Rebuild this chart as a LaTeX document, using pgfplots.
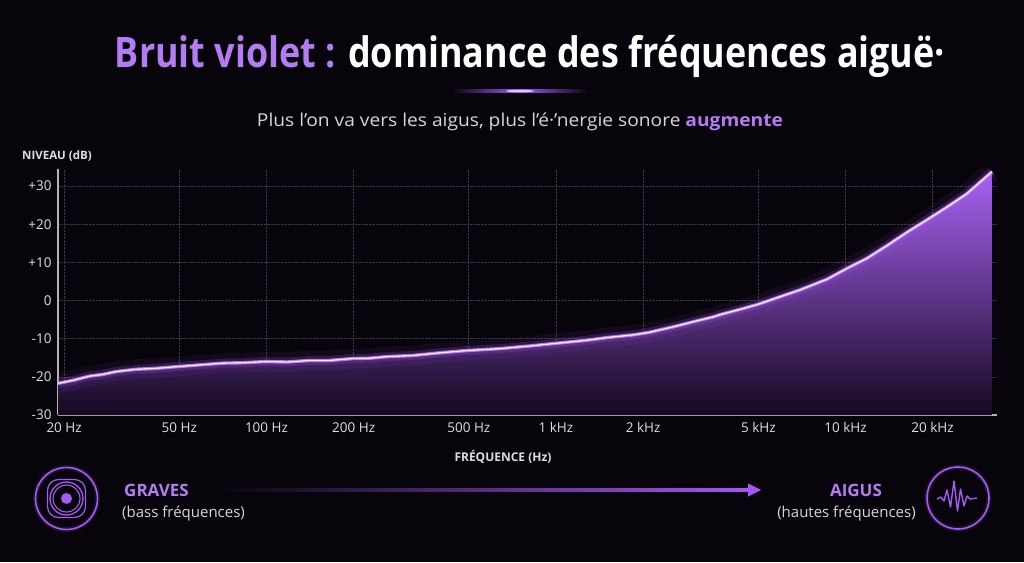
\documentclass[border=0pt]{standalone}
\usepackage{fontspec}
\setmainfont{Open Sans}
\usepackage{pgfplots}
\pgfplotsset{compat=1.18}
\usepackage{pgfplotstable}

\definecolor{bg}{HTML}{07050B}
\definecolor{vtitle}{HTML}{B47CF2}
\definecolor{subc}{HTML}{D6D6DA}
\definecolor{tickc}{HTML}{DEDEE2}
\definecolor{axisc}{HTML}{B4B4B8}
\definecolor{gridc}{HTML}{3A3646}
\definecolor{filltop}{HTML}{A862F2}
\definecolor{fillmid}{HTML}{5C2694}
\definecolor{fillbot}{HTML}{160922}
\definecolor{glow}{HTML}{A855F7}
\definecolor{glow2}{HTML}{C890FF}
\definecolor{core}{HTML}{F4E6FF}
\definecolor{iconc}{HTML}{A35CEE}

% spectrum: frequency (Hz), level (dB)
\pgfplotstableread{
f     db
19.05 -21.7
21.5  -20.9
24.5  -19.8
27    -19.4
30.3  -18.6
35.6  -18.0
41    -17.8
49.5  -17.3
58    -16.9
70.7  -16.4
83    -16.3
98.6  -16.0
118   -16.1
141   -15.7
165   -15.7
198   -15.2
228   -15.1
260   -14.7
320   -14.4
397   -13.7
492   -13.1
640   -12.6
813   -11.9
1031  -11.1
1279  -10.4
1500  -9.7
1844  -9.0
2079  -8.4
2536  -6.9
3069  -5.3
3484  -4.3
3684  -3.7
4425  -2.1
5023  -0.9
5937  1.0
6966  2.8
8630  5.6
10040 8.3
11870 11.1
13900 14.4
16300 17.9
18960 21.0
22390 24.5
26240 28.0
32070 33.8
}\spec

\begin{document}
\begin{tikzpicture}[x=1pt,y=1pt]
\fill[bg] (0,0) rectangle (1024,562);
\useasboundingbox (0,0) rectangle (1024,562);

% title and subtitle
\node[anchor=base, inner sep=0] at (530,494)
  {\resizebox{830pt}{\height}{\fontsize{42}{46}\selectfont\bfseries
   \textcolor{vtitle}{Bruit violet :} \textcolor{white}{dominance des fréquences aiguë·}}};
\shade[left color=bg, right color=glow] (452,469.5) rectangle (520,472.5);
\shade[left color=glow, right color=bg] (520,469.5) rectangle (588,472.5);
\fill[core, opacity=0.8] (520,471) ellipse (14 and 1.2);
\node[anchor=base, inner sep=0] at (520,435)
  {\resizebox{526pt}{\height}{\fontsize{17.8}{20}\selectfont
   \textcolor{subc}{Plus l’on va vers les aigus, plus l’é·’nergie sonore} \textcolor{vtitle}{\bfseries augmente}}};

\node[anchor=base west, inner sep=0, text=tickc] at (22,402)
  {\fontsize{11.5}{13}\selectfont\bfseries NIVEAU (dB)};

\begin{axis}[
  at={(58pt,147pt)}, anchor=south west,
  width=939pt, height=246pt, scale only axis,
  xmode=log, xmin=19.05, xmax=33380,
  ymin=-30, ymax=34.5,
  axis x line=bottom, axis y line=left,
  axis line style={draw=axisc, line width=1.6pt, -},
  xtick={20,50,100,200,500,1000,2000,5000,10000,20000},
  xticklabels={20 Hz,50 Hz,100 Hz,200 Hz,500 Hz,1 kHz,2 kHz,5 kHz,10 kHz,20 kHz},
  ytick={-30,-20,-10,0,10,20,30},
  yticklabels={-30,-20,-10,0,+10,+20,+30},
  minor x tick num=0, major tick length=0pt,
  grid=major, grid style={densely dotted, gridc, line width=0.7pt},
  ticklabel style={font=\fontsize{13.5}{15}\selectfont, text=tickc},
  xticklabel style={yshift=-4pt},
  yticklabel style={xshift=-3pt},
]
\addplot[top color=filltop, middle color=fillmid, bottom color=fillbot, draw=none]
  table[x=f, y=db] {\spec} |- (axis cs:19.05,-30) -- cycle;
\addplot[no marks, line width=20pt, glow, opacity=0.07, line join=round] table[x=f, y=db] {\spec};
\addplot[no marks, line width=9pt, glow, opacity=0.2, line join=round] table[x=f, y=db] {\spec};
\addplot[no marks, line width=3.4pt, glow2, opacity=0.8, line join=round] table[x=f, y=db] {\spec};
\addplot[no marks, line width=1.3pt, core, line join=round] table[x=f, y=db] {\spec};
\end{axis}

\node[anchor=base, inner sep=0, text=tickc] at (503,101)
  {\fontsize{12}{14}\selectfont\bfseries FRÉQUENCE (Hz)};

% bottom band: graves -> aigus
\shade[left color=bg, right color=glow] (215,70.5) rectangle (750,73.5);
\fill[glow] (748,78.5) -- (761,72) -- (748,65.5) -- cycle;

\node[anchor=base west, inner sep=0, text=vtitle] at (124,66)
  {\fontsize{17}{19}\selectfont\bfseries GRAVES};
\node[anchor=base west, inner sep=0, text=subc] at (122,45)
  {\fontsize{15}{17}\selectfont (bass fréquences)};
\node[anchor=base, inner sep=0, text=vtitle] at (856,66)
  {\fontsize{17}{19}\selectfont\bfseries AIGUS};
\node[anchor=base, inner sep=0, text=subc] at (846.5,45)
  {\fontsize{15}{17}\selectfont (hautes fréquences)};

% speaker icon
\begin{scope}[shift={(66.5,63.5)}]
  \draw[glow, line width=5pt, opacity=0.15] (0,0) circle (31);
  \draw[iconc, line width=1.6pt] (0,0) circle (31);
  \draw[iconc, line width=1.2pt, rounded corners=11] (-19,-19) rectangle (19,19);
  \draw[iconc, line width=1.3pt] (0,0) circle (16.5);
  \draw[iconc, line width=1.1pt] (0,0) circle (13.5);
  \fill[iconc] (0,0) circle (5.5);
\end{scope}

% waveform icon
\begin{scope}[shift={(958,64)}]
  \draw[glow, line width=5pt, opacity=0.15] (0,0) circle (31);
  \draw[iconc, line width=1.6pt] (0,0) circle (31);
  \draw[iconc, line width=1.4pt, line join=round]
    (-21,-1) -- (-17,1) -- (-14,-3) -- (-11,8) -- (-7.5,-9) -- (-4,17)
    -- (-0.5,-13) -- (2.5,9) -- (6,-8) -- (9,2) -- (12,-1) -- (19,0);
\end{scope}
\end{tikzpicture}
\end{document}
